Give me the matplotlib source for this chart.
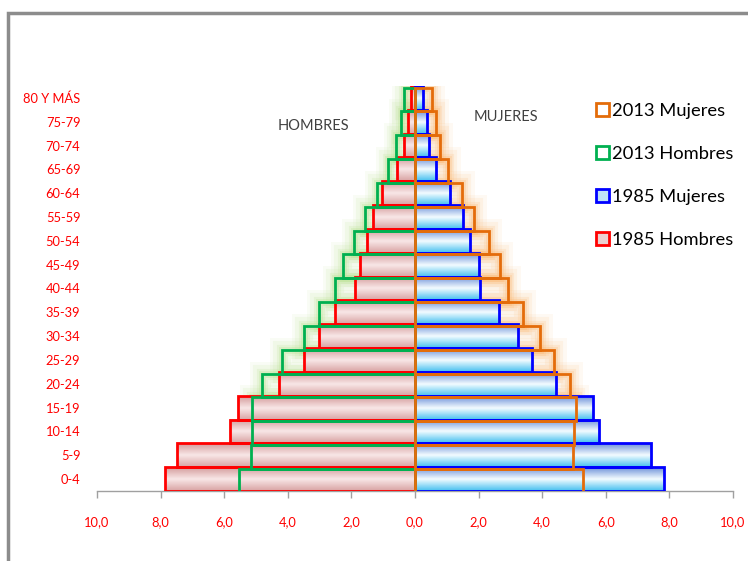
import numpy as np
import matplotlib
matplotlib.use("Agg")
import matplotlib.pyplot as plt
import matplotlib.ticker as mticker
from matplotlib.colors import LinearSegmentedColormap
from matplotlib.patches import Patch, Rectangle

plt.rcParams['font.family'] = ['Lato', 'DejaVu Sans']

# age groups from youngest to oldest
grupos = ['0-4', '5-9', '10-14', '15-19', '20-24', '25-29', '30-34', '35-39',
          '40-44', '45-49', '50-54', '55-59', '60-64', '65-69', '70-74',
          '75-79', '80 Y MÁS']

# percent of total population
hombres_1985 = [7.86, 7.49, 5.82, 5.57, 4.27, 3.49, 3.01, 2.52, 1.89, 1.72,
                1.52, 1.32, 1.03, 0.56, 0.36, 0.22, 0.12]
mujeres_1985 = [7.82, 7.41, 5.77, 5.60, 4.44, 3.68, 3.23, 2.63, 2.05, 2.01,
                1.74, 1.52, 1.11, 0.67, 0.45, 0.38, 0.25]
hombres_2013 = [5.53, 5.16, 5.14, 5.14, 4.82, 4.19, 3.49, 3.02, 2.52, 2.25,
                1.93, 1.57, 1.21, 0.85, 0.59, 0.44, 0.35]
mujeres_2013 = [5.27, 4.96, 5.00, 5.07, 4.88, 4.36, 3.92, 3.41, 2.92, 2.68,
                2.33, 1.86, 1.47, 1.04, 0.77, 0.66, 0.54]

x_ticks = [-10, -8, -6, -4, -2, 0, 2, 4, 6, 8, 10]

RED = '#ff0000'
BLUE = '#0000ff'
GREEN = '#00b050'
ORANGE = '#e46c0a'

cmap_h = LinearSegmentedColormap.from_list('h', ['#d9a3a3', '#f8e7e7', '#d49b9b'])
cmap_m = LinearSegmentedColormap.from_list('m', ['#45c0f0', '#f4fcff', '#6b90d8'])
grad = np.linspace(0, 1, 64).reshape(-1, 1)

fig = plt.figure(figsize=(7.48, 5.61), dpi=100)
ax = fig.add_axes([0.1297, 0.1248, 0.8503, 0.7219])

y = np.arange(len(grupos))
y13 = y - 0.07
h1985 = -np.array(hombres_1985)
h2013 = -np.array(hombres_2013)

# soft glow behind the 2013 outlines
for lw, a in [(18, 0.08), (13, 0.12), (8, 0.18), (5, 0.25)]:
    ax.barh(y13, h2013, height=1.0, fill=False, edgecolor='#b5e08a',
            linewidth=lw, alpha=a, zorder=1, joinstyle='miter')
    ax.barh(y13, mujeres_2013, height=1.0, fill=False, edgecolor='#fbb870',
            linewidth=lw, alpha=a, zorder=1, joinstyle='miter')

# 1985 bars with gradient fill
for yi, hv, mv in zip(y, h1985, mujeres_1985):
    ax.imshow(grad, cmap=cmap_h, extent=(hv, 0, yi + 0.5, yi - 0.5),
              aspect='auto', zorder=2, interpolation='bilinear')
    ax.imshow(grad, cmap=cmap_m, extent=(0, mv, yi + 0.5, yi - 0.5),
              aspect='auto', zorder=2, interpolation='bilinear')
ax.barh(y, h1985, height=1.0, fill=False, edgecolor=RED, linewidth=2, zorder=3)
ax.barh(y, mujeres_1985, height=1.0, fill=False, edgecolor=BLUE, linewidth=2, zorder=3)

# 2013 outlines on top
ax.barh(y13, h2013, height=1.0, fill=False, edgecolor=GREEN, linewidth=2, zorder=4)
ax.barh(y13, mujeres_2013, height=1.0, fill=False, edgecolor=ORANGE, linewidth=2, zorder=4)

ax.set_xlim(-10, 10)
ax.set_ylim(-0.5, 16.5)
ax.set_xticks(x_ticks)
ax.xaxis.set_major_formatter(mticker.FuncFormatter(
    lambda v, p: ('%.1f' % abs(v)).replace('.', ',')))
ax.set_yticks(y)
ax.set_yticklabels(grupos)
ax.tick_params(axis='y', length=0, pad=12, labelsize=9.3, labelcolor=RED)
ax.tick_params(axis='x', length=5, width=1, color='#a0a0a0', pad=13,
               labelsize=9.3, labelcolor=RED)
for s in ['left', 'top', 'right']:
    ax.spines[s].set_visible(False)
ax.spines['bottom'].set_color('#a0a0a0')
ax.spines['bottom'].set_linewidth(1)

fig.text(313 / 748, 1 - 126 / 561, 'HOMBRES', ha='center', va='center',
         fontsize=10.5, color='#404040')
fig.text(506 / 748, 1 - 117 / 561, 'MUJERES', ha='center', va='center',
         fontsize=10.5, color='#404040')

handles = [Patch(facecolor='white', edgecolor=ORANGE, linewidth=2),
           Patch(facecolor='white', edgecolor=GREEN, linewidth=2),
           Patch(facecolor='#bfe3f7', edgecolor=BLUE, linewidth=2),
           Patch(facecolor='#ecd0d0', edgecolor=RED, linewidth=2)]
labels = ['2013 Mujeres', '2013 Hombres', '1985 Mujeres', '1985 Hombres']
fig.legend(handles, labels, loc='upper left',
           bbox_to_anchor=(596 / 748, 1 - 103 / 561), frameon=False,
           fontsize=13.2, handlelength=0.7, handleheight=0.7,
           handletextpad=0.2, labelspacing=1.47, borderpad=0, borderaxespad=0)

# chart frame
fig.add_artist(Rectangle((8 / 748, -0.1), 1.2, 1.1 - 13 / 561,
                         transform=fig.transFigure, fill=False,
                         edgecolor='#8c8c8c', linewidth=2.5))

fig.savefig('out.png', dpi=100)
